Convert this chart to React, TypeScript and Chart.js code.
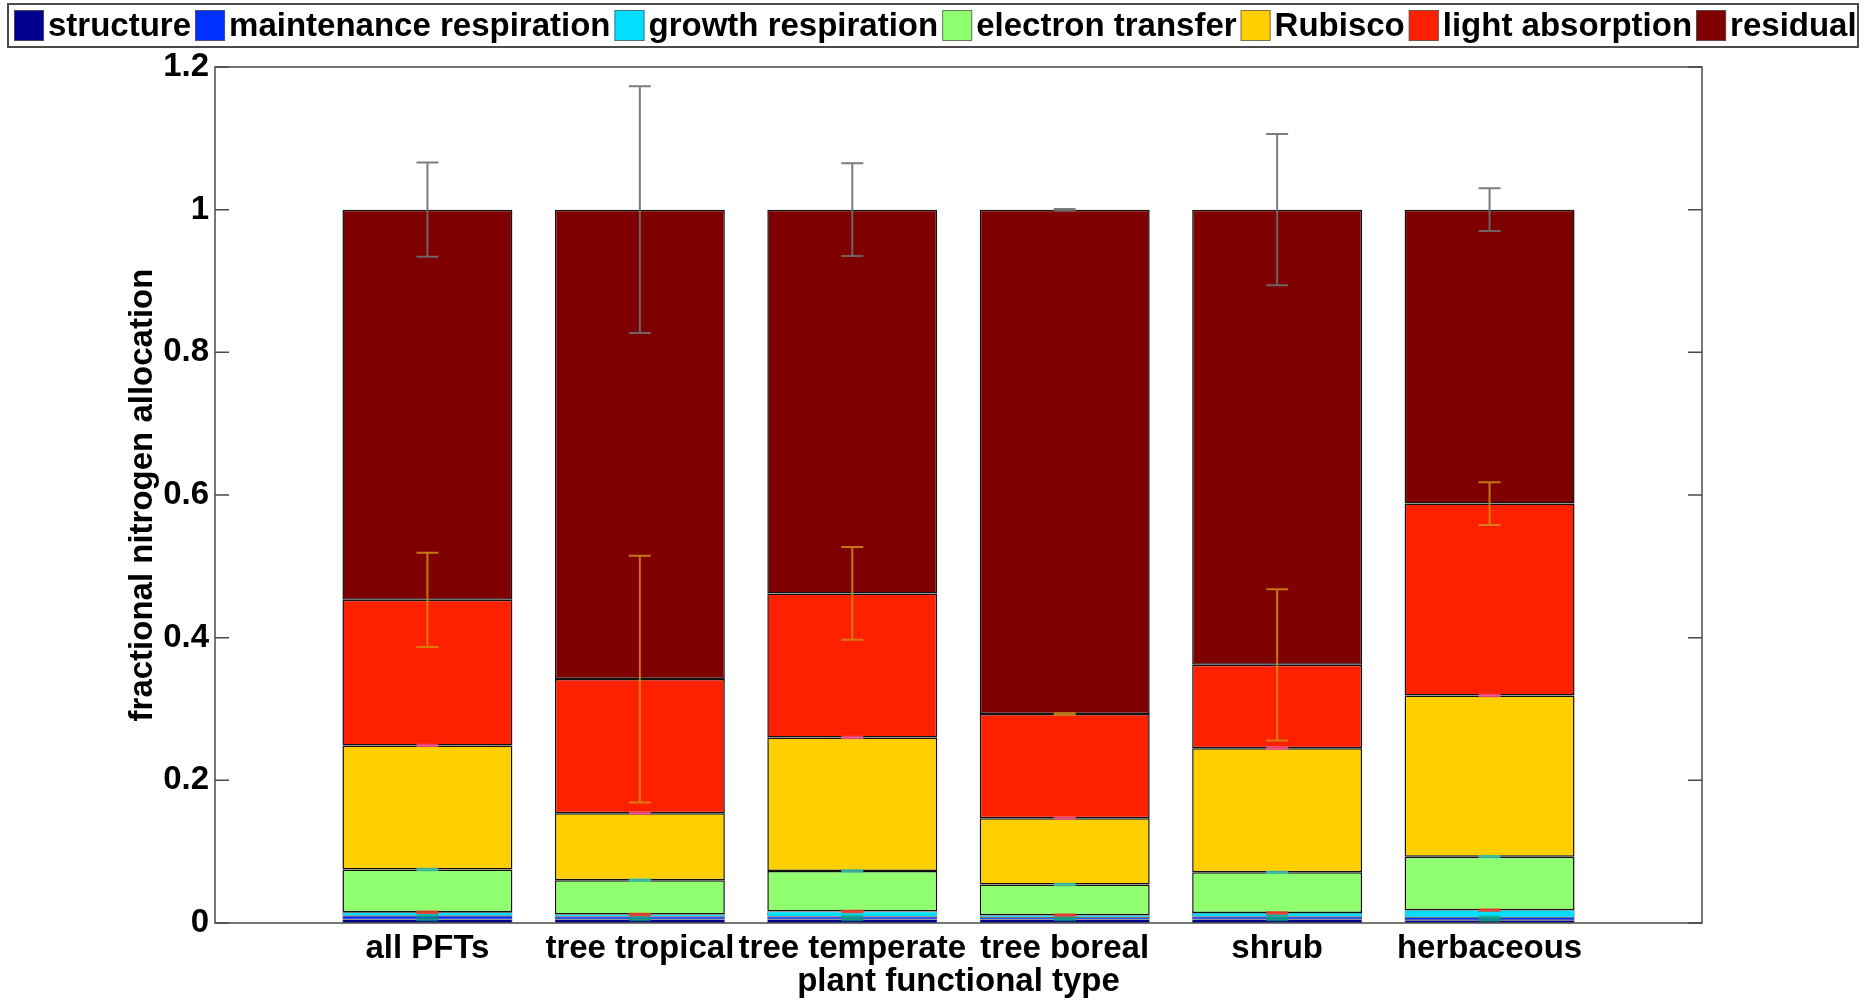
import { useEffect, useRef } from "react";
import { Chart, registerables } from "chart.js";

Chart.register(...registerables);

// Plant functional types on the x axis
const categories = ["all PFTs", "tree tropical", "tree temperate", "tree boreal", "shrub", "herbaceous"];

// Nitrogen pools, bottom to top of each stack
const seriesNames = [
  "structure",
  "maintenance respiration",
  "growth respiration",
  "electron transfer",
  "Rubisco",
  "light absorption",
  "residual",
];
const seriesColors = ["#00008f", "#0030ff", "#00dfff", "#8fff6f", "#ffcf00", "#ff2000", "#7f0000"];
const errorColors = [
  "rgba(0,150,120,0.75)",
  "rgba(0,170,140,0.75)",
  "rgba(240,60,40,0.9)",
  "rgba(60,200,170,0.85)",
  "rgba(255,80,140,0.85)",
  "rgba(210,140,20,0.85)",
  "rgba(110,110,110,0.9)",
];

// Fractional allocation of each pool
const structure = [0.005, 0.005, 0.005, 0.005, 0.005, 0.004];
const maintenance = [0.005, 0.004, 0.004, 0.003, 0.004, 0.004];
const growth = [0.005, 0.003, 0.007, 0.003, 0.005, 0.010];
const electron = [0.060, 0.048, 0.057, 0.043, 0.057, 0.075];
const rubisco = [0.174, 0.094, 0.187, 0.093, 0.174, 0.226];
const light = [0.204, 0.188, 0.202, 0.146, 0.117, 0.269];
const residual = [0.547, 0.658, 0.538, 0.707, 0.638, 0.412];

// Standard deviations at the top of each pool
const structureErr = [0.001, 0.001, 0.001, 0.001, 0.001, 0.001];
const maintenanceErr = [0.001, 0.001, 0.001, 0.001, 0.001, 0.001];
const growthErr = [0.001, 0.001, 0.001, 0.001, 0.001, 0.001];
const electronErr = [0.001, 0.001, 0.001, 0.001, 0.001, 0.001];
const rubiscoErr = [0.001, 0.001, 0.001, 0.001, 0.001, 0.001];
const lightErr = [0.066, 0.173, 0.065, 0.001, 0.106, 0.030];
const residualErr = [0.066, 0.173, 0.065, 0.001, 0.106, 0.030];

const yTickLabels = ["0", "0.2", "0.4", "0.6", "0.8", "1", "1.2"];

const seriesValues = [structure, maintenance, growth, electron, rubisco, light, residual];
const seriesErrors = [structureErr, maintenanceErr, growthErr, electronErr, rubiscoErr, lightErr, residualErr];

const FONT = '"Liberation Sans", Arial, Helvetica, sans-serif';

// One empty slot on each side keeps a full category of space at both ends
const paddedLabels = ["", ...categories, ""];
const pad = (arr: number[]) => [null, ...arr, null];

const backgroundPlugin = {
  id: "whiteBackground",
  beforeDraw(chart: any) {
    const ctx = chart.ctx;
    ctx.save();
    ctx.fillStyle = "#ffffff";
    ctx.fillRect(0, 0, chart.width, chart.height);
    ctx.restore();
  },
};

const errorBarPlugin = {
  id: "errorBars",
  afterDatasetsDraw(chart: any) {
    const ctx = chart.ctx;
    const yScale = chart.scales.y;
    const capHalf = 11;
    ctx.save();
    ctx.lineWidth = 2;
    seriesErrors.forEach((errs, di) => {
      const meta = chart.getDatasetMeta(di);
      ctx.strokeStyle = errorColors[di];
      errs.forEach((e, i) => {
        const el = meta.data[i + 1];
        if (!el) return;
        let top = 0;
        for (let k = 0; k <= di; k++) top += seriesValues[k][i];
        const x = el.x;
        const yHi = yScale.getPixelForValue(top + e);
        const yLo = yScale.getPixelForValue(top - e);
        ctx.beginPath();
        ctx.moveTo(x, yHi);
        ctx.lineTo(x, yLo);
        ctx.moveTo(x - capHalf, yHi);
        ctx.lineTo(x + capHalf, yHi);
        ctx.moveTo(x - capHalf, yLo);
        ctx.lineTo(x + capHalf, yLo);
        ctx.stroke();
      });
    });
    ctx.restore();
  },
};

const axesBoxPlugin = {
  id: "axesBox",
  afterDraw(chart: any) {
    const ctx = chart.ctx;
    const { left, right, top, bottom } = chart.chartArea;
    const yScale = chart.scales.y;
    ctx.save();
    ctx.strokeStyle = "#4a4a4a";
    ctx.lineWidth = 1.5;
    ctx.strokeRect(left, top, right - left, bottom - top);
    ctx.beginPath();
    yScale.ticks.forEach((t: any) => {
      const y = yScale.getPixelForValue(t.value);
      ctx.moveTo(left, y);
      ctx.lineTo(left + 14, y);
      ctx.moveTo(right, y);
      ctx.lineTo(right - 14, y);
    });
    ctx.stroke();
    ctx.restore();
  },
};

const legendPlugin = {
  id: "boxLegend",
  afterDraw(chart: any) {
    const ctx = chart.ctx;
    const boxL = 8, boxR = 1858, boxT = 4, boxB = 47;
    const startX = 14;
    const sq = 30, sqTop = 10, sqH = 31, gapText = 4, gapItem = 4, baseline = 36;
    ctx.save();
    ctx.fillStyle = "#ffffff";
    ctx.fillRect(boxL, boxT, boxR - boxL, boxB - boxT);
    ctx.strokeStyle = "#4a4a4a";
    ctx.lineWidth = 2;
    ctx.strokeRect(boxL, boxT, boxR - boxL, boxB - boxT);
    ctx.font = `bold 33px ${FONT}`;
    const widths = seriesNames.map((n) => ctx.measureText(n).width);
    let x = startX;
    ctx.textBaseline = "alphabetic";
    ctx.textAlign = "left";
    seriesNames.forEach((name, i) => {
      ctx.fillStyle = seriesColors[i];
      ctx.fillRect(x, sqTop, sq, sqH);
      ctx.strokeStyle = "rgba(90,90,90,0.8)";
      ctx.lineWidth = 1;
      ctx.strokeRect(x + 0.5, sqTop + 0.5, sq - 1, sqH - 1);
      ctx.fillStyle = "#000000";
      ctx.fillText(name, x + sq + gapText, baseline);
      x += sq + gapText + widths[i] + gapItem;
    });
    ctx.restore();
  },
};

export default function App() {
  const canvasRef = useRef<HTMLCanvasElement>(null);

  useEffect(() => {
    const canvas = canvasRef.current;
    if (!canvas) return;
    const chart = new Chart(canvas, {
      type: "bar",
      data: {
        labels: paddedLabels,
        datasets: seriesNames.map((name, i) => ({
          label: name,
          data: pad(seriesValues[i]) as any,
          backgroundColor: seriesColors[i],
          borderColor: "#111111",
          borderWidth: i < 3 ? 0.6 : 1.5,
          borderSkipped: false,
          categoryPercentage: 1,
          barPercentage: 0.8,
        })),
      },
      options: {
        responsive: false,
        animation: false,
        devicePixelRatio: 1,
        layout: { padding: { top: 67, right: 162, bottom: 0, left: 0 } },
        plugins: {
          legend: { display: false },
          tooltip: { enabled: false },
        },
        scales: {
          x: {
            stacked: true,
            offset: false,
            grid: { display: false, drawTicks: false },
            border: { display: false },
            ticks: {
              autoSkip: false,
              maxRotation: 0,
              minRotation: 0,
              padding: 6,
              color: "#000000",
              font: { family: FONT, size: 33, weight: "bold" },
            },
            title: {
              display: true,
              text: "plant functional type",
              color: "#000000",
              padding: { top: 0, bottom: 0 },
              font: { family: FONT, size: 33, weight: "bold" },
            },
            afterFit(scale: any) {
              scale.height = 79;
            },
          },
          y: {
            stacked: true,
            min: 0,
            max: 1.2,
            grid: { display: false, drawTicks: false },
            border: { display: false },
            ticks: {
              stepSize: 0.2,
              padding: 6,
              color: "#000000",
              font: { family: FONT, size: 33, weight: "bold" },
              callback: (_v: any, index: number) => yTickLabels[index],
            },
            title: {
              display: true,
              text: "fractional nitrogen allocation",
              color: "#000000",
              padding: { top: 123, bottom: 0 },
              font: { family: FONT, size: 33, weight: "bold" },
            },
            afterFit(scale: any) {
              scale.width = 215;
            },
          },
        },
      },
      plugins: [backgroundPlugin, errorBarPlugin, axesBoxPlugin, legendPlugin],
    } as any);
    return () => chart.destroy();
  }, []);

  return (
    <div style={{ position: "fixed", left: 0, top: 0, width: 1864, height: 1002, background: "#ffffff" }}>
      <canvas ref={canvasRef} width={1864} height={1002} style={{ display: "block", width: 1864, height: 1002 }} />
    </div>
  );
}
